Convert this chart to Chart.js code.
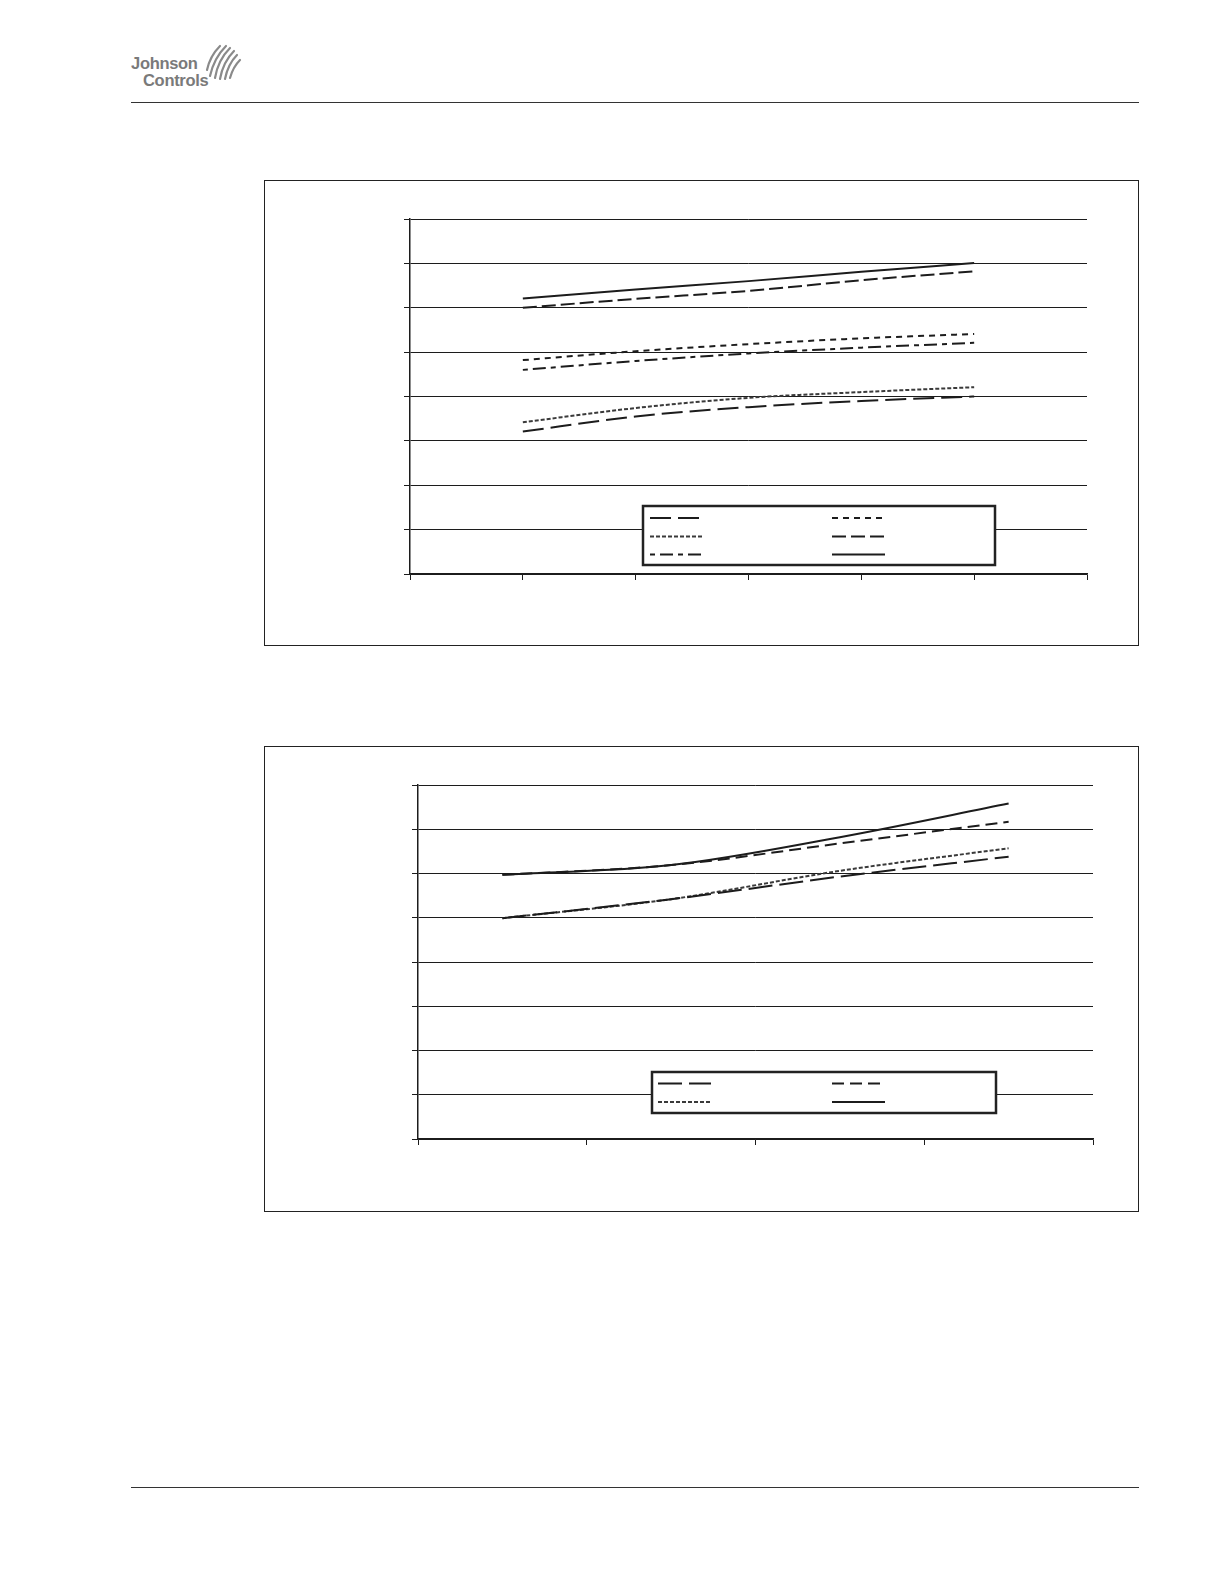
<!DOCTYPE html>
<html>
<head>
<meta charset="utf-8">
<script src="https://cdn.jsdelivr.net/npm/chart.js@4.4.0/dist/chart.umd.min.js"></script>
<style>
  body { margin: 0; background: #fff; font-family: "Liberation Sans", Arial, sans-serif; }
  .page { position: relative; width: 1224px; height: 1584px; }
  .rule { position: absolute; left: 131px; width: 1008px; border-top: 1.5px solid #333; }
  .box { position: absolute; left: 264px; width: 875px; height: 466px; box-sizing: border-box; border: 1.5px solid #222; }
  .box canvas { display: block; }
  .logo { position: absolute; left: 131px; top: 40px; color: #7a7a7a; font-weight: bold; font-size: 16.5px; line-height: 17px; letter-spacing: -0.3px; }
</style>
</head>
<body>
<div class="page">
  <div class="logo">
    <div style="position:absolute; left:0; top:15px;">Johnson</div>
    <div style="position:absolute; left:12px; top:32px;">Controls</div>
    <svg style="position:absolute; left:73px; top:0;" width="42" height="44" viewBox="0 0 42 44">
      <g fill="none" stroke="#8a8a8a" stroke-width="2.2" stroke-linecap="round">
        <path d="M6 36 Q10 18 22 6"/>
        <path d="M11 38 Q14 20 26 8"/>
        <path d="M16 39 Q19 22 30 11"/>
        <path d="M21 39 Q24 24 33 15"/>
        <path d="M26 38 Q29 27 36 20"/>
        <path d="M3 30 Q6 16 16 6"/>
      </g>
    </svg>
  </div>
  <div class="rule" style="top:102px;"></div>

  <div class="box" style="top:180px;"><canvas id="chart1" width="872" height="463"></canvas></div>
  <div class="box" style="top:746px;"><canvas id="chart2" width="872" height="463"></canvas></div>

  <div class="rule" style="top:1487px;"></div>
</div>
<script>
// chart 1 - six curves, x positions on a 0..6 axis
const c1X = [1, 2, 3, 4, 5];
const c1LongDash = [3.21, 3.55, 3.76, 3.90, 4.00];
const c1ShortDash = [4.82, 5.02, 5.18, 5.31, 5.41];
const c1Dotted = [3.42, 3.74, 3.97, 4.10, 4.21];
const c1MedDash = [6.00, 6.20, 6.38, 6.62, 6.82];
const c1DashDot = [4.60, 4.80, 4.97, 5.10, 5.21];
const c1Solid = [6.21, 6.41, 6.60, 6.81, 7.01];

// chart 2 - four curves over four categories
const c2Labels = ['', '', '', ''];
const c2LongDash = [4.99, 5.42, 5.93, 6.38];
const c2MedDash = [5.97, 6.19, 6.68, 7.17];
const c2Dotted = [4.99, 5.42, 6.06, 6.57];
const c2Solid = [5.97, 6.19, 6.82, 7.58];

const yMin = 0, yMax = 8;
const ink = '#1c1c1c';

function pts(xs, ys) {
    return ys.map((y, i) => ({ x: xs[i], y: y }));
}

function series(data, dash, color) {
    return {
        data: data,
        borderColor: color || ink,
        borderWidth: 2,
        borderDash: dash,
        pointRadius: 0,
        cubicInterpolationMode: 'monotone',
        fill: false
    };
}

// legend drawn inside the plot, as in the original
const boxLegend = {
    id: 'boxLegend',
    afterDatasetsDraw(chart, args, opts) {
        const ctx = chart.ctx;
        const a = chart.chartArea;
        const bx = a.left + opts.left, by = a.top + opts.top;
        ctx.save();
        ctx.fillStyle = '#fff';
        ctx.fillRect(bx, by, opts.width, opts.height);
        ctx.strokeStyle = '#222';
        ctx.lineWidth = 2.5;
        ctx.strokeRect(bx, by, opts.width, opts.height);
        opts.order.forEach((dsIndex, i) => {
            const ds = chart.data.datasets[dsIndex];
            const col = i % 2, row = Math.floor(i / 2);
            const x0 = bx + opts.colX[col];
            const y0 = by + opts.rowY[row];
            ctx.beginPath();
            ctx.setLineDash(ds.borderDash || []);
            ctx.strokeStyle = ds.borderColor;
            ctx.lineWidth = 2;
            ctx.moveTo(x0, y0);
            ctx.lineTo(x0 + opts.sample, y0);
            ctx.stroke();
        });
        ctx.restore();
    }
};

function yScale() {
    return {
        min: yMin, max: yMax,
        ticks: { display: false, stepSize: 1 },
        grid: { color: ink, lineWidth: 1, tickLength: 6, drawTicks: true },
        border: { color: ink, width: 1.5 }
    };
}

new Chart(document.getElementById('chart1'), {
    type: 'line',
    data: {
        datasets: [
            series(pts(c1X, c1LongDash), [21, 7]),
            series(pts(c1X, c1ShortDash), [6, 5]),
            series(pts(c1X, c1Dotted), [4, 2], '#3a3a3a'),
            series(pts(c1X, c1MedDash), [14, 5]),
            series(pts(c1X, c1DashDot), [5, 5, 13, 5]),
            series(pts(c1X, c1Solid), [])
        ]
    },
    options: {
        responsive: false,
        animation: false,
        layout: { padding: { left: 139, right: 50, top: 38, bottom: 64 } },
        plugins: {
            legend: { display: false },
            tooltip: { enabled: false },
            boxLegend: {
                left: 233, top: 287, width: 352, height: 59, sample: 53,
                colX: [7, 189], rowY: [12, 30.5, 48.5],
                order: [0, 1, 2, 3, 4, 5]
            }
        },
        scales: {
            x: {
                type: 'linear', min: 0, max: 6,
                ticks: { display: false, stepSize: 1 },
                grid: { drawOnChartArea: false, color: ink, tickLength: 6 },
                border: { color: ink, width: 1.5 }
            },
            y: yScale()
        }
    },
    plugins: [boxLegend]
});

new Chart(document.getElementById('chart2'), {
    type: 'line',
    data: {
        labels: c2Labels,
        datasets: [
            series(c2LongDash, [24, 7]),
            series(c2MedDash, [12, 6]),
            series(c2Dotted, [4, 2], '#3a3a3a'),
            series(c2Solid, [])
        ]
    },
    options: {
        responsive: false,
        animation: false,
        layout: { padding: { left: 147, right: 44, top: 38, bottom: 65 } },
        plugins: {
            legend: { display: false },
            tooltip: { enabled: false },
            boxLegend: {
                left: 234, top: 287, width: 344, height: 41, sample: 53,
                colX: [6, 180], rowY: [11.5, 30],
                order: [0, 1, 2, 3]
            }
        },
        scales: {
            x: {
                offset: true,
                ticks: { display: false },
                grid: { offset: true, drawOnChartArea: false, color: ink, tickLength: 6 },
                border: { color: ink, width: 1.5 }
            },
            y: yScale()
        }
    },
    plugins: [boxLegend]
});
</script>
</body>
</html>
